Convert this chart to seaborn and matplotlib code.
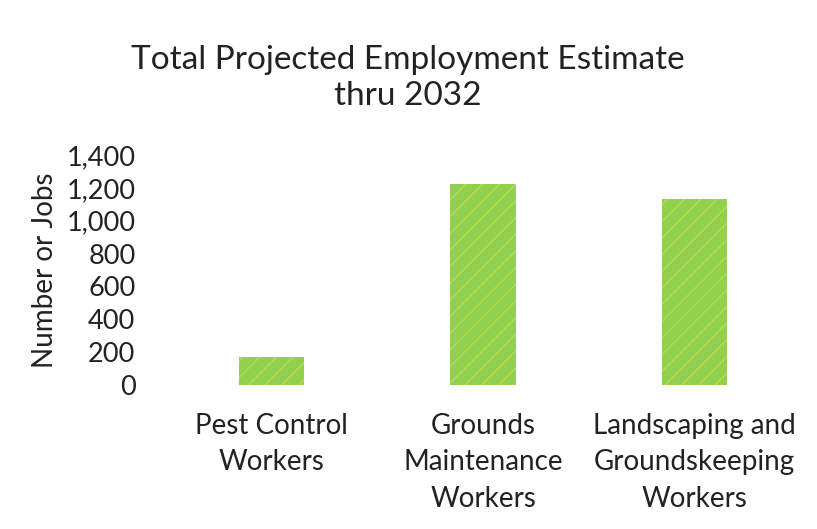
import matplotlib
matplotlib.use("Agg")
import matplotlib.pyplot as plt
import seaborn as sns
import pandas as pd

categories = ["Pest Control\nWorkers", "Grounds\nMaintenance\nWorkers", "Landscaping and\nGroundskeeping\nWorkers"]
values = [172, 1223, 1132]
yticks = [0, 200, 400, 600, 800, 1000, 1200, 1400]

sns.set_theme(style="white")
plt.rcParams['font.family'] = ['Lato', 'DejaVu Sans']
plt.rcParams['hatch.color'] = "#B8DB4C"

df = pd.DataFrame({"cat": categories, "val": values})

fig = plt.figure(figsize=(8.17, 5.29), dpi=100)
ax = fig.add_axes([166/817, 1-385/529, (800-166)/817, (385-155)/529])
sns.barplot(data=df, x="cat", y="val", ax=ax, color="#92D050", width=0.31,
            saturation=1, linewidth=0)
for p in ax.patches:
    p.set_hatch("//")
    p.set_edgecolor("#B8DB4C")
    p.set_linewidth(0)

ax.set_ylim(0, 1400)
ax.set_yticks(yticks)
ax.set_yticklabels([f"{v:,}" for v in yticks])
ax.set_xlim(-0.5, 2.5)
for s in ax.spines.values():
    s.set_visible(False)
ax.tick_params(axis='y', length=0, pad=22, labelsize=19.5, labelcolor="#222222")
ax.tick_params(axis='x', length=0, pad=20, labelsize=20, labelcolor="#222222")
for t in ax.get_xticklabels():
    t.set_linespacing(1.5)
ax.set_xlabel("")
ax.set_ylabel("Number or Jobs", fontsize=20, color="#222222", labelpad=6)

fig.text(408/817, 1-78/529, "Total Projected Employment Estimate\nthru 2032",
         ha="center", va="center", fontsize=24, color="#222222", linespacing=1.25)

fig.savefig("out.png", dpi=100)
